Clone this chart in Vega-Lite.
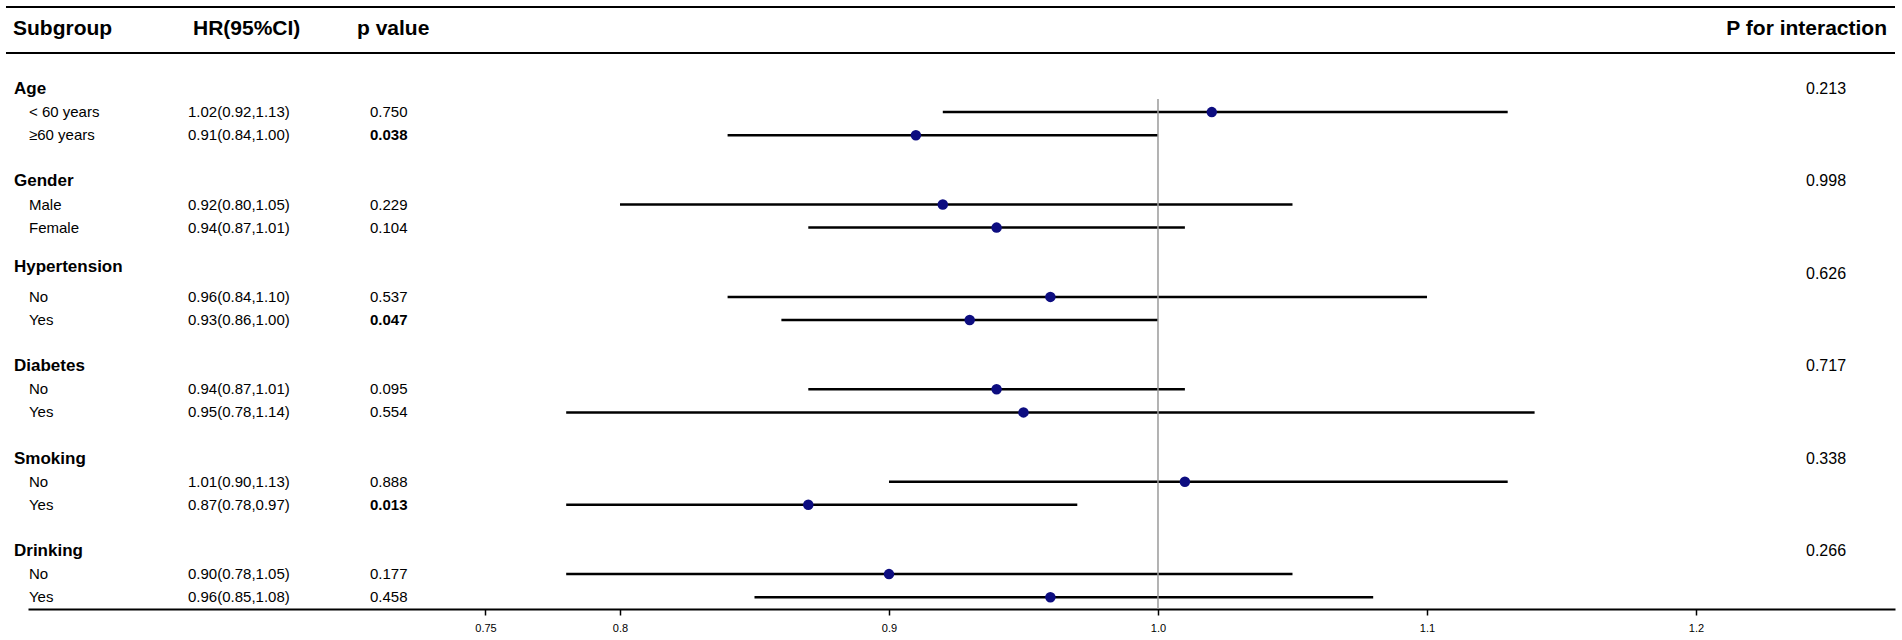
{
  "$schema": "https://vega.github.io/schema/vega-lite/v6.json",
  "width": 1902,
  "height": 609,
  "padding": 0,
  "autosize": {"type": "pad"},
  "background": "white",
  "config": {"view": {"stroke": null}, "font": "Liberation Sans"},
  "datasets": {
    "groups": [
      {"row": 0, "label": "Age"},
      {"row": 4, "label": "Gender"},
      {"row": 7.7, "label": "Hypertension"},
      {"row": 12, "label": "Diabetes"},
      {"row": 16, "label": "Smoking"},
      {"row": 20, "label": "Drinking"}
    ],
    "pint": [
      {"row": 0, "pint": "0.213"},
      {"row": 4, "pint": "0.998"},
      {"row": 8, "pint": "0.626"},
      {"row": 12, "pint": "0.717"},
      {"row": 16, "pint": "0.338"},
      {"row": 20, "pint": "0.266"}
    ],
    "subs": [
      {"row": 1, "label": "< 60 years", "hr": 1.02, "lo": 0.92, "hi": 1.13, "hrci": "1.02(0.92,1.13)", "p": "0.750", "sig": false},
      {"row": 2, "label": "≥60 years", "hr": 0.91, "lo": 0.84, "hi": 1.00, "hrci": "0.91(0.84,1.00)", "p": "0.038", "sig": true},
      {"row": 5, "label": "Male", "hr": 0.92, "lo": 0.80, "hi": 1.05, "hrci": "0.92(0.80,1.05)", "p": "0.229", "sig": false},
      {"row": 6, "label": "Female", "hr": 0.94, "lo": 0.87, "hi": 1.01, "hrci": "0.94(0.87,1.01)", "p": "0.104", "sig": false},
      {"row": 9, "label": "No", "hr": 0.96, "lo": 0.84, "hi": 1.10, "hrci": "0.96(0.84,1.10)", "p": "0.537", "sig": false},
      {"row": 10, "label": "Yes", "hr": 0.93, "lo": 0.86, "hi": 1.00, "hrci": "0.93(0.86,1.00)", "p": "0.047", "sig": true},
      {"row": 13, "label": "No", "hr": 0.94, "lo": 0.87, "hi": 1.01, "hrci": "0.94(0.87,1.01)", "p": "0.095", "sig": false},
      {"row": 14, "label": "Yes", "hr": 0.95, "lo": 0.78, "hi": 1.14, "hrci": "0.95(0.78,1.14)", "p": "0.554", "sig": false},
      {"row": 17, "label": "No", "hr": 1.01, "lo": 0.90, "hi": 1.13, "hrci": "1.01(0.90,1.13)", "p": "0.888", "sig": false},
      {"row": 18, "label": "Yes", "hr": 0.87, "lo": 0.78, "hi": 0.97, "hrci": "0.87(0.78,0.97)", "p": "0.013", "sig": true},
      {"row": 21, "label": "No", "hr": 0.90, "lo": 0.78, "hi": 1.05, "hrci": "0.90(0.78,1.05)", "p": "0.177", "sig": false},
      {"row": 22, "label": "Yes", "hr": 0.96, "lo": 0.85, "hi": 1.08, "hrci": "0.96(0.85,1.08)", "p": "0.458", "sig": false}
    ]
  },
  "layer": [
    {
      "data": {"name": "subs"},
      "mark": {"type": "rule", "color": "black", "strokeWidth": 2.5},
      "encoding": {
        "x": {
          "field": "lo", "type": "quantitative",
          "scale": {"domain": [0.57993, 1.27398], "range": [28, 1895], "nice": false, "zero": false},
          "axis": {
            "title": null, "grid": false,
            "values": [0.75, 0.8, 0.9, 1.0, 1.1, 1.2],
            "labelExpr": "datum.value == 0.75 ? '0.75' : format(datum.value, '.1f')",
            "domainColor": "black", "domainWidth": 2,
            "tickColor": "black", "tickWidth": 1.5, "tickSize": 6,
            "labelFont": "Liberation Sans", "labelFontSize": 11, "labelColor": "black", "labelPadding": 7
          }
        },
        "x2": {"field": "hi"},
        "y": {
          "field": "row", "type": "quantitative",
          "scale": {"domain": [-3.853, 22.51], "reverse": true, "nice": false, "zero": false},
          "axis": null
        }
      }
    },
    {
      "data": {"values": [{"ref": 1}]},
      "mark": {"type": "rule", "color": "#9a9a9a", "strokeWidth": 1.5},
      "encoding": {
        "x": {"field": "ref", "type": "quantitative"},
        "y": {"datum": 0.43, "type": "quantitative"},
        "y2": {"datum": 22.51}
      }
    },
    {
      "data": {"name": "subs"},
      "mark": {"type": "point", "filled": true, "shape": "circle", "size": 110, "color": "#0d0d80", "opacity": 1},
      "encoding": {
        "x": {"field": "hr", "type": "quantitative"},
        "y": {"field": "row", "type": "quantitative"}
      }
    },
    {
      "data": {"values": [{"line": "top", "k": -3.55}, {"line": "header", "k": -1.56}]},
      "mark": {"type": "rule", "color": "black", "strokeWidth": 2},
      "encoding": {
        "x": {"datum": 0.57175, "type": "quantitative"},
        "x2": {"datum": 1.27398},
        "y": {"field": "k", "type": "quantitative"}
      }
    },
    {
      "data": {"values": [{"t": "Subgroup"}]},
      "mark": {"type": "text", "align": "left", "baseline": "middle", "fontSize": 21, "fontWeight": "bold", "color": "black"},
      "encoding": {"x": {"datum": 0.57435, "type": "quantitative"}, "y": {"datum": -2.6, "type": "quantitative"}, "text": {"field": "t"}}
    },
    {
      "data": {"values": [{"t": "HR(95%CI)"}]},
      "mark": {"type": "text", "align": "left", "baseline": "middle", "fontSize": 21, "fontWeight": "bold", "color": "black"},
      "encoding": {"x": {"datum": 0.64126, "type": "quantitative"}, "y": {"datum": -2.6, "type": "quantitative"}, "text": {"field": "t"}}
    },
    {
      "data": {"values": [{"t": "p value"}]},
      "mark": {"type": "text", "align": "left", "baseline": "middle", "fontSize": 21, "fontWeight": "bold", "color": "black"},
      "encoding": {"x": {"datum": 0.70223, "type": "quantitative"}, "y": {"datum": -2.6, "type": "quantitative"}, "text": {"field": "t"}}
    },
    {
      "data": {"values": [{"t": "P for interaction"}]},
      "mark": {"type": "text", "align": "right", "baseline": "middle", "fontSize": 21, "fontWeight": "bold", "color": "black"},
      "encoding": {"x": {"datum": 1.271, "type": "quantitative"}, "y": {"datum": -2.6, "type": "quantitative"}, "text": {"field": "t"}}
    },
    {
      "data": {"name": "groups"},
      "mark": {"type": "text", "align": "left", "baseline": "middle", "fontSize": 17, "fontWeight": "bold", "color": "black"},
      "encoding": {"x": {"datum": 0.57472, "type": "quantitative"}, "y": {"field": "row", "type": "quantitative"}, "text": {"field": "label"}}
    },
    {
      "data": {"name": "subs"},
      "mark": {"type": "text", "align": "left", "baseline": "middle", "fontSize": 15, "color": "black"},
      "encoding": {"x": {"datum": 0.5803, "type": "quantitative"}, "y": {"field": "row", "type": "quantitative"}, "text": {"field": "label"}}
    },
    {
      "data": {"name": "subs"},
      "mark": {"type": "text", "align": "left", "baseline": "middle", "fontSize": 15, "color": "black"},
      "encoding": {"x": {"datum": 0.63941, "type": "quantitative"}, "y": {"field": "row", "type": "quantitative"}, "text": {"field": "hrci"}}
    },
    {
      "data": {"name": "subs"},
      "transform": [{"filter": "!datum.sig"}],
      "mark": {"type": "text", "align": "left", "baseline": "middle", "fontSize": 15, "color": "black"},
      "encoding": {"x": {"datum": 0.70706, "type": "quantitative"}, "y": {"field": "row", "type": "quantitative"}, "text": {"field": "p"}}
    },
    {
      "data": {"name": "subs"},
      "transform": [{"filter": "datum.sig"}],
      "mark": {"type": "text", "align": "left", "baseline": "middle", "fontSize": 15, "fontWeight": "bold", "color": "black"},
      "encoding": {"x": {"datum": 0.70706, "type": "quantitative"}, "y": {"field": "row", "type": "quantitative"}, "text": {"field": "p"}}
    },
    {
      "data": {"name": "pint"},
      "mark": {"type": "text", "align": "left", "baseline": "middle", "fontSize": 16, "color": "black"},
      "encoding": {"x": {"datum": 1.2409, "type": "quantitative"}, "y": {"field": "row", "type": "quantitative"}, "text": {"field": "pint"}}
    }
  ]
}
